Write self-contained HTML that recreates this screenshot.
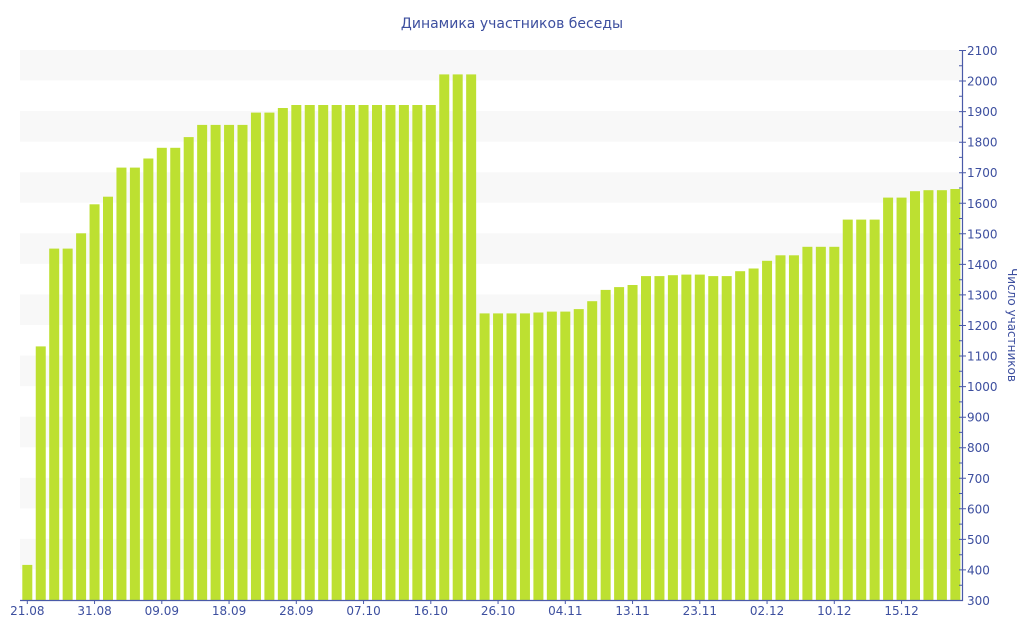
<!DOCTYPE html>
<html><head><meta charset="utf-8"><style>
html,body{margin:0;padding:0;background:#fff;}
svg{display:block;font-family:"DejaVu Sans","Liberation Sans",sans-serif;}
</style></head><body>
<svg width="1024" height="640" viewBox="0 0 1024 640" xmlns="http://www.w3.org/2000/svg">
<rect width="1024" height="640" fill="#fff"/>
<text x="512" y="28" text-anchor="middle" font-size="14" fill="#3d4f9f">Динамика участников беседы</text>
<g fill="#f8f8f8">
<rect x="20" y="50" width="942" height="30.56"/>
<rect x="20" y="111.1" width="942" height="30.56"/>
<rect x="20" y="172.2" width="942" height="30.56"/>
<rect x="20" y="233.3" width="942" height="30.56"/>
<rect x="20" y="294.4" width="942" height="30.56"/>
<rect x="20" y="355.6" width="942" height="30.56"/>
<rect x="20" y="416.7" width="942" height="30.56"/>
<rect x="20" y="477.8" width="942" height="30.56"/>
<rect x="20" y="538.9" width="942" height="30.56"/>
</g>
<g fill="#bde031" transform="translate(0,600) scale(1,-1)">
<rect x="22.3" y="0" width="10" height="35.1"/>
<rect x="35.75" y="0" width="10" height="253.6"/>
<rect x="49.2" y="0" width="10" height="351.4"/>
<rect x="62.65" y="0" width="10" height="351.4"/>
<rect x="76.1" y="0" width="10" height="366.7"/>
<rect x="89.55" y="0" width="10" height="395.7"/>
<rect x="103" y="0" width="10" height="403.3"/>
<rect x="116.45" y="0" width="10" height="432.4"/>
<rect x="129.9" y="0" width="10" height="432.4"/>
<rect x="143.35" y="0" width="10" height="441.5"/>
<rect x="156.8" y="0" width="10" height="452.2"/>
<rect x="170.25" y="0" width="10" height="452.2"/>
<rect x="183.7" y="0" width="10" height="462.9"/>
<rect x="197.15" y="0" width="10" height="475.1"/>
<rect x="210.6" y="0" width="10" height="475.1"/>
<rect x="224.05" y="0" width="10" height="475.1"/>
<rect x="237.5" y="0" width="10" height="475.1"/>
<rect x="250.95" y="0" width="10" height="487.4"/>
<rect x="264.4" y="0" width="10" height="487.4"/>
<rect x="277.85" y="0" width="10" height="492"/>
<rect x="291.3" y="0" width="10" height="495"/>
<rect x="304.75" y="0" width="10" height="495"/>
<rect x="318.2" y="0" width="10" height="495"/>
<rect x="331.65" y="0" width="10" height="495"/>
<rect x="345.1" y="0" width="10" height="495"/>
<rect x="358.55" y="0" width="10" height="495"/>
<rect x="372" y="0" width="10" height="495"/>
<rect x="385.45" y="0" width="10" height="495"/>
<rect x="398.9" y="0" width="10" height="495"/>
<rect x="412.35" y="0" width="10" height="495"/>
<rect x="425.8" y="0" width="10" height="495"/>
<rect x="439.25" y="0" width="10" height="525.6"/>
<rect x="452.7" y="0" width="10" height="525.6"/>
<rect x="466.15" y="0" width="10" height="525.6"/>
<rect x="479.6" y="0" width="10" height="286.6"/>
<rect x="493.05" y="0" width="10" height="286.6"/>
<rect x="506.5" y="0" width="10" height="286.6"/>
<rect x="519.95" y="0" width="10" height="286.6"/>
<rect x="533.4" y="0" width="10" height="287.5"/>
<rect x="546.85" y="0" width="10" height="288.4"/>
<rect x="560.3" y="0" width="10" height="288.4"/>
<rect x="573.75" y="0" width="10" height="290.9"/>
<rect x="587.2" y="0" width="10" height="298.8"/>
<rect x="600.65" y="0" width="10" height="310.1"/>
<rect x="614.1" y="0" width="10" height="312.9"/>
<rect x="627.55" y="0" width="10" height="315"/>
<rect x="641" y="0" width="10" height="323.9"/>
<rect x="654.45" y="0" width="10" height="323.9"/>
<rect x="667.9" y="0" width="10" height="324.8"/>
<rect x="681.35" y="0" width="10" height="325.4"/>
<rect x="694.8" y="0" width="10" height="325.4"/>
<rect x="708.25" y="0" width="10" height="323.9"/>
<rect x="721.7" y="0" width="10" height="323.9"/>
<rect x="735.15" y="0" width="10" height="328.8"/>
<rect x="748.6" y="0" width="10" height="331.5"/>
<rect x="762.05" y="0" width="10" height="339.2"/>
<rect x="775.5" y="0" width="10" height="344.7"/>
<rect x="788.95" y="0" width="10" height="344.7"/>
<rect x="802.4" y="0" width="10" height="353.2"/>
<rect x="815.85" y="0" width="10" height="353.2"/>
<rect x="829.3" y="0" width="10" height="353.2"/>
<rect x="842.75" y="0" width="10" height="380.4"/>
<rect x="856.2" y="0" width="10" height="380.4"/>
<rect x="869.65" y="0" width="10" height="380.4"/>
<rect x="883.1" y="0" width="10" height="402.4"/>
<rect x="896.55" y="0" width="10" height="402.4"/>
<rect x="910" y="0" width="10" height="408.8"/>
<rect x="923.45" y="0" width="10" height="409.8"/>
<rect x="936.9" y="0" width="10" height="409.8"/>
<rect x="950.35" y="0" width="10" height="411"/>
</g>
<g stroke="#4a5aa8" stroke-width="1.2" fill="none">
<line x1="20" y1="600.5" x2="963" y2="600.5"/>
<line x1="962.5" y1="50" x2="962.5" y2="601"/>
</g>
<g stroke="#4a5aa8" stroke-width="1">
<path d="M27.3 600v4M94.55 600v4M161.8 600v4M229.05 600v4M296.3 600v4M363.55 600v4M430.8 600v4M498.05 600v4M565.3 600v4M632.55 600v4M699.8 600v4M767.05 600v4M834.3 600v4M901.55 600v4"/>
<path d="M959 50.5h7M959 81h7M959 111.6h7M959 142.2h7M959 172.7h7M959 203.3h7M959 233.8h7M959 264.4h7M959 294.9h7M959 325.5h7M959 356h7M959 386.6h7M959 417.2h7M959 447.7h7M959 478.3h7M959 508.8h7M959 539.4h7M959 569.9h7"/>
<path d="M959 65.8h4M959 96.3h4M959 126.9h4M959 157.4h4M959 188h4M959 218.5h4M959 249.1h4M959 279.7h4M959 310.2h4M959 340.8h4M959 371.3h4M959 401.9h4M959 432.4h4M959 463h4M959 493.5h4M959 524.1h4M959 554.7h4M959 585.2h4"/>
</g>
<g fill="#3d4f9f" font-size="12" text-anchor="middle">
<text x="27.3" y="615">21.08</text><text x="94.55" y="615">31.08</text><text x="161.8" y="615">09.09</text><text x="229.05" y="615">18.09</text><text x="296.3" y="615">28.09</text><text x="363.55" y="615">07.10</text><text x="430.8" y="615">16.10</text><text x="498.05" y="615">26.10</text><text x="565.3" y="615">04.11</text><text x="632.55" y="615">13.11</text><text x="699.8" y="615">23.11</text><text x="767.05" y="615">02.12</text><text x="834.3" y="615">10.12</text><text x="901.55" y="615">15.12</text>
</g>
<g fill="#3d4f9f" font-size="12">
<text x="967" y="55">2100</text><text x="967" y="85.5">2000</text><text x="967" y="116">1900</text><text x="967" y="146.7">1800</text><text x="967" y="177.2">1700</text><text x="967" y="207.8">1600</text><text x="967" y="238.3">1500</text><text x="967" y="268.9">1400</text><text x="967" y="299.4">1300</text><text x="967" y="330">1200</text><text x="967" y="360.6">1100</text><text x="967" y="391.1">1000</text><text x="967" y="421.7">900</text><text x="967" y="452.2">800</text><text x="967" y="482.8">700</text><text x="967" y="513.3">600</text><text x="967" y="543.9">500</text><text x="967" y="574.4">400</text><text x="967" y="605">300</text>
</g>
<text transform="translate(1008,325) rotate(90)" text-anchor="middle" font-size="12" fill="#3d4f9f">Число участников</text>
</svg>
</body></html>
